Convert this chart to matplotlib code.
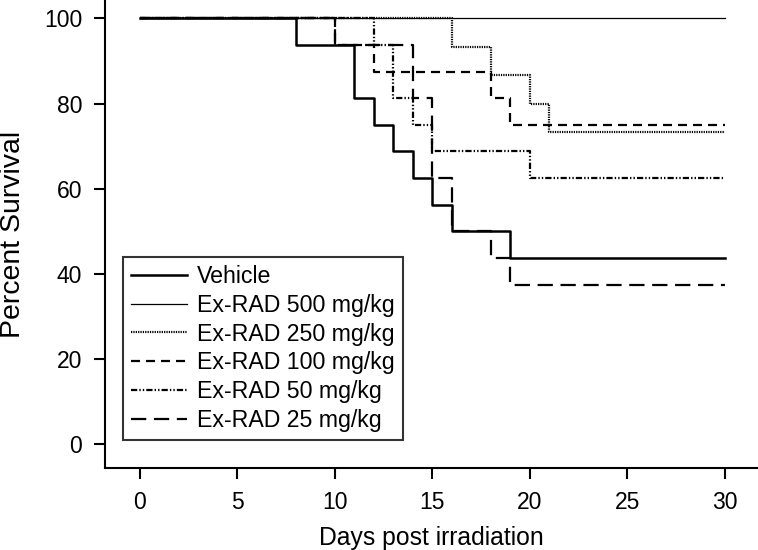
import matplotlib
matplotlib.use("Agg")
import matplotlib.pyplot as plt

plt.rcParams['font.family'] = ['Liberation Sans', 'DejaVu Sans']
plt.rcParams['lines.scale_dashes'] = False

# Data (Kaplan-Meier steps)
vehicle_t = [0, 8, 11, 12, 13, 14, 15, 16, 19, 30]
vehicle_s = [100, 93.75, 81.25, 75, 68.75, 62.5, 56.25, 50, 43.75, 43.75]
d500_t = [0, 30]
d500_s = [100, 100]
d250_t = [0, 16, 18, 20, 21, 30]
d250_s = [100, 93.3, 86.7, 80, 73.3, 73.3]
d100_t = [0, 10, 12, 18, 19, 30]
d100_s = [100, 93.75, 87.5, 81.25, 75, 75]
d50_t = [0, 12, 13, 14, 15, 20, 30]
d50_s = [100, 93.75, 81.25, 75, 68.75, 62.5, 62.5]
d25_t = [0, 10, 14, 15, 16, 18, 19, 30]
d25_s = [100, 93.75, 81.25, 62.5, 50, 43.75, 37.5, 37.5]

labels = ["Vehicle", "Ex-RAD 500 mg/kg", "Ex-RAD 250 mg/kg",
          "Ex-RAD 100 mg/kg", "Ex-RAD 50 mg/kg", "Ex-RAD 25 mg/kg"]
xticks = [0, 5, 10, 15, 20, 25, 30]
yticks = [0, 20, 40, 60, 80, 100]
xlabel = "Days post irradiation"
ylabel = "Percent Survival"

W, H = 758, 550
fig = plt.figure(figsize=(W/100, H/100), dpi=100)
ax = fig.add_axes([104.5/W, 1 - 468.3/H, 1 - 104.5/W, 468.3/H])

ax.step(vehicle_t, vehicle_s, where='post', color='black', lw=1.8, label=labels[0])
ax.step(d500_t, d500_s, where='post', color='black', lw=0.9, label=labels[1])
ax.step(d250_t, d250_s, where='post', color='black', lw=1.6,
        dashes=(0.9, 0.8), label=labels[2])
ax.step(d100_t, d100_s, where='post', color='black', lw=1.6,
        dashes=(6.5, 4.3), label=labels[3])
ax.step(d50_t, d50_s, where='post', color='black', lw=1.6,
        dashes=(4.5, 1.5, 1.0, 1.5, 1.0, 1.5), label=labels[4])
ax.step(d25_t, d25_s, where='post', color='black', lw=1.6,
        dashes=(11, 5.5), label=labels[5])

ax.set_xlim(-1.82, 31.7)
ax.set_ylim(-5.63, 104.3)
ax.set_xticks(xticks)
ax.set_yticks(yticks)
ax.spines['top'].set_visible(False)
ax.spines['right'].set_visible(False)
for s in ['left', 'bottom']:
    ax.spines[s].set_linewidth(1.5)
ax.tick_params(axis='both', direction='out', length=8, width=1.5,
               labelsize=16.5, pad=8)

fig.text(431/W, 1 - 545/H, xlabel, fontsize=17.8, ha='center', va='baseline')
fig.text(13/W, 1 - 234/H, ylabel, fontsize=20.5, rotation=90,
         ha='center', va='center')

leg = ax.legend(loc='lower left', bbox_to_anchor=(0.0279, 0.0604),
                borderaxespad=0, fontsize=16.7, frameon=True, fancybox=False,
                edgecolor='black', handlelength=2.4, handletextpad=0.45,
                labelspacing=0.25, borderpad=0.35)
leg.get_frame().set_linewidth(1.5)

fig.savefig("out.png", dpi=100)
